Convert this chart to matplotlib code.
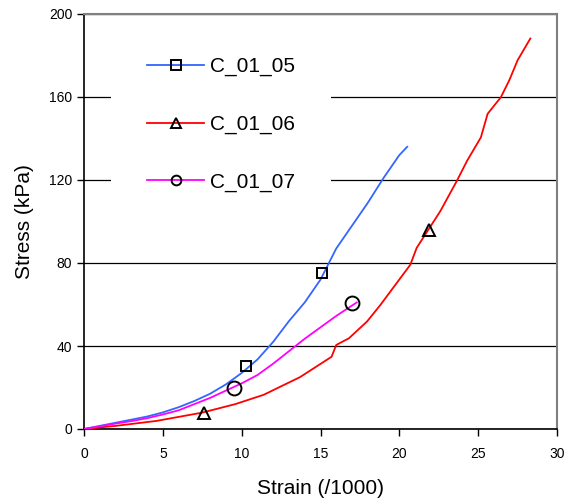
import matplotlib
matplotlib.use("Agg")
import matplotlib.pyplot as plt
from matplotlib.lines import Line2D

plt.rcParams['font.family'] = ['Liberation Sans', 'DejaVu Sans']

# C_01_05 (blue)
x_05 = [0, 1, 2, 3, 4, 5, 6, 7, 8, 9, 10, 11, 12, 13, 14, 15, 16, 17, 18, 19, 20, 20.5]
y_05 = [0, 1.5, 3, 4.5, 6, 8, 10.5, 13.5, 17, 21.5, 27, 33.5, 42, 52, 61, 72, 87, 98, 109, 121, 132, 136]
mx_05 = [10.3, 15.1]
my_05 = [30.5, 75]

# C_01_06 (red)
x_06 = [0, 2, 4.6, 7.5, 9.6, 11.4, 13.7, 15.7, 16.0, 16.8, 17.95, 18.8, 20.7, 21.1, 22.6,
        23.65, 24.3, 25.17, 25.6, 26.44, 26.97, 27.5, 28.31]
y_06 = [0, 1.5, 3.9, 7.9, 12, 16.5, 25, 34.8, 40.5, 43.7, 51.8, 59.8, 79.2, 87.3, 105,
        119.6, 129.3, 140.5, 151.9, 159.9, 168, 177.7, 188.2]
mx_06 = [7.6, 21.9]
my_06 = [7.6, 95.7]

# C_01_07 (magenta)
x_07 = [0, 1, 2, 3, 4, 5, 6, 7, 8, 9, 10, 11, 12, 13, 14, 15, 16, 17, 17.3]
y_07 = [0, 1.3, 2.6, 3.8, 5.2, 7, 9, 12, 15, 18.5, 22, 26, 31.5, 37.5, 43.5, 49, 54.5, 59.5, 61]
mx_07 = [9.5, 17.0]
my_07 = [19.9, 60.6]

labels = ["C_01_05", "C_01_06", "C_01_07"]
colors = ["#3366FF", "#FF0000", "#FF00FF"]
markers = ["s", "^", "o"]

fig = plt.figure(figsize=(5.68, 4.99), dpi=100)
ax = fig.add_axes([84/568, 1 - 429/499, (557 - 84)/568, (429 - 14)/499])

series = [(x_05, y_05, mx_05, my_05), (x_06, y_06, mx_06, my_06), (x_07, y_07, mx_07, my_07)]
msize = [7.5, 8.5, 10]
for (x, y, mx, my), c, m, ms in zip(series, colors, markers, msize):
    ax.plot(x, y, color=c, lw=1.3, zorder=3)
    ax.plot(mx, my, ls='none', marker=m, ms=ms, mfc='none', mec='black', mew=1.4, zorder=4)

ax.set_xlim(0, 30)
ax.set_ylim(0, 200)
ax.set_xticks(range(0, 31, 5))
ax.set_yticks(range(0, 201, 40))
ax.grid(True, axis='y', color='black', lw=0.9, zorder=1)
ax.set_axisbelow(True)
ax.tick_params(direction='out', length=5, labelsize=10, width=1)
ax.tick_params(axis='x', pad=8)
for s in ['top', 'right']:
    ax.spines[s].set_color('#808080')
    ax.spines[s].set_linewidth(1.5)
for s in ['left', 'bottom']:
    ax.spines[s].set_color('black')
    ax.spines[s].set_linewidth(1.2)

ax.set_xlabel("Strain (/1000)", fontsize=15, labelpad=13)
ax.set_ylabel("Stress (kPa)", fontsize=15, labelpad=11)

handles = [Line2D([], [], color=c, lw=1.3, marker=m, ms=7, mfc='none', mec='black', mew=1.4)
           for c, m in zip(colors, markers)]
leg = ax.legend(handles, labels, loc='upper left', bbox_to_anchor=(27/473, 0.984),
                fontsize=15, frameon=True, fancybox=False, framealpha=1,
                handlelength=2.7, handletextpad=0.3, labelspacing=1.85,
                borderpad=1.75, borderaxespad=0)
leg.get_frame().set_edgecolor('none')
leg.get_frame().set_facecolor('white')
leg.set_zorder(2)

fig.savefig("out.png", dpi=100)
